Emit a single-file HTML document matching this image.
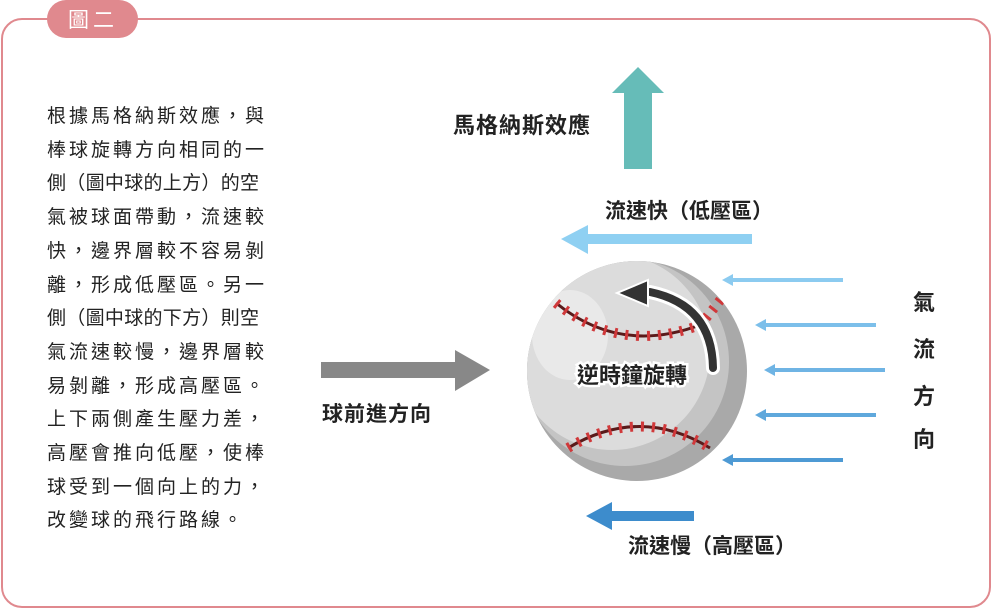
<!DOCTYPE html>
<html><head><meta charset="utf-8"><style>
body{margin:0;width:993px;height:610px;background:#fff;overflow:hidden;font-family:"Liberation Sans","Noto Sans CJK TC",sans-serif;}
svg text{font-family:"Liberation Sans","Noto Sans CJK TC",sans-serif;}
.p{position:absolute;left:47px;top:100px;width:300px;white-space:nowrap;font-size:19px;line-height:33.7px;letter-spacing:3px;color:#222;}
.n{letter-spacing:0.3px}
.q{letter-spacing:-5px}
</style></head><body>
<svg width="993" height="610" style="position:absolute;left:0;top:0">
<rect x="2" y="19" width="988" height="588" rx="20" fill="none" stroke="#e0898e" stroke-width="2"/>
<rect x="47" y="0" width="91" height="38" rx="19" fill="#e0898e"/>
<text x="93" y="27" font-size="21" fill="#fff" text-anchor="middle" letter-spacing="4">圖二</text>
<polygon points="624,169 624,93 612,93 638,67 664,93 652,93 652,169" fill="#66bcb8"/>
<text x="453" y="133" font-size="22" font-weight="bold" fill="#222" letter-spacing="1">馬格納斯效應</text>
<text x="605" y="218" font-size="21" font-weight="bold" fill="#222">流速快（低壓區）</text>
<polygon points="752,234 588,234 588,225 561,239 588,254 588,244 752,244" fill="#8fd0f2"/>
<polygon points="321,362 455,362 455,350 490,370 455,391 455,378 321,378" fill="#888"/>
<text x="322" y="421" font-size="21" font-weight="bold" fill="#222" letter-spacing="1">球前進方向</text>
<polygon points="694,511 612,511 612,502 586,516 612,530 612,521 694,521" fill="#3d8ccc"/>
<text x="628" y="553" font-size="21" font-weight="bold" fill="#222">流速慢（高壓區）</text>
<g stroke-width="4">
<line x1="843" y1="280" x2="732" y2="280" stroke="#8ccbf0"/><polygon points="722,280 733,274 733,286" fill="#8ccbf0"/>
<line x1="876" y1="325" x2="765" y2="325" stroke="#7cbfea"/><polygon points="755,325 766,319 766,331" fill="#7cbfea"/>
<line x1="885" y1="370" x2="774" y2="370" stroke="#6fb4e4"/><polygon points="764,370 775,364 775,376" fill="#6fb4e4"/>
<line x1="876" y1="415" x2="765" y2="415" stroke="#5fa8dc"/><polygon points="755,415 766,409 766,421" fill="#5fa8dc"/>
<line x1="843" y1="460" x2="732" y2="460" stroke="#4e9ad4"/><polygon points="722,460 733,454 733,466" fill="#4e9ad4"/>
</g>
<g font-size="22" font-weight="bold" fill="#222" text-anchor="middle">
<text x="924" y="310">氣</text><text x="924" y="357">流</text><text x="924" y="404">方</text><text x="924" y="447">向</text>
</g>
<defs><clipPath id="c"><circle cx="637" cy="371" r="110"/></clipPath></defs>
<circle cx="637" cy="371" r="110" fill="#a9a9a9"/>
<g clip-path="url(#c)">
<circle cx="625" cy="362" r="104" fill="#c4c4c4"/>
<circle cx="612" cy="352" r="98" fill="#dcdcdc"/>
<ellipse cx="570" cy="335" rx="38" ry="45" fill="#e9e9e9"/>
<path d="M556,303 Q620,355 700,325" stroke="#5a1a1a" stroke-width="3" fill="none"/>
<path d="M568,448 Q640,405 710,448" stroke="#5a1a1a" stroke-width="3" fill="none"/>
<path d="M556,303 Q620,355 700,325" stroke="#d0383a" stroke-width="10" stroke-dasharray="3 8" fill="none"/>
<path d="M568,448 Q640,405 710,448" stroke="#d0383a" stroke-width="10" stroke-dasharray="3 8" fill="none"/>
<path d="M706,318 L722,298" stroke="#d0383a" stroke-width="10" stroke-dasharray="3 7" fill="none"/>
</g>
<path d="M713,368 Q712,305 650,292" stroke="#fff" stroke-width="14" fill="none" stroke-linecap="round"/>
<path d="M713,368 Q712,305 650,292" stroke="#333" stroke-width="8" fill="none" stroke-linecap="round"/>
<polygon points="617,293 648,280 648,306" fill="#333" stroke="#fff" stroke-width="2"/>
<text x="632" y="383" font-size="22" font-weight="bold" fill="#222" text-anchor="middle" stroke="#fff" stroke-width="5" paint-order="stroke">逆時鐘旋轉</text>
</svg>
<div class="p">根據馬格納斯效應，與<br>棒球旋轉方向相同的一<br><span class="n">側（圖中球的上方）的空</span><br>氣被球面帶動，流速較<br>快，邊界層較不容易剝<br>離，形成低壓區。另一<br><span class="n">側（圖中球的下方）則空</span><br>氣流速較慢，邊界層較<br>易剝離，形成高壓區。<br>上下兩側產生壓力差，<br>高壓會推向低壓，使棒<br>球受到一個向上的力，<br>改變球的飛行路線。</div>
</body></html>
